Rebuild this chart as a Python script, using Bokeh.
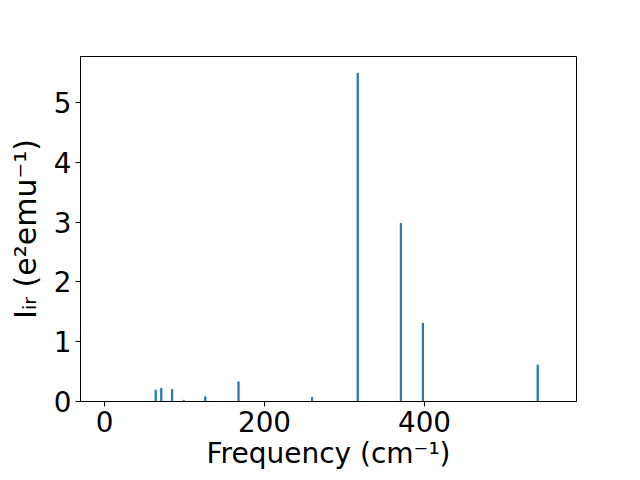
from bokeh.plotting import figure
from bokeh.models import FixedTicker
from bokeh.embed import file_html
from bokeh.resources import INLINE

# data
freq = [64, 71, 84.5, 99, 126, 167.5, 259.5, 316.5, 370.5, 398, 541.5]
intensity = [0.19, 0.22, 0.20, 0.02, 0.08, 0.33, 0.07, 5.49, 2.98, 1.31, 0.61]
x_ticks = [0, 200, 400]
y_ticks = [0, 1, 2, 3, 4, 5]

FONT = "DejaVu Sans"

W, H = 632, 472
p = figure(width=W, height=H, x_range=(-30, 590), y_range=(0, 5.77),
           output_backend="svg", toolbar_location=None,
           min_border_left=80, min_border_right=W - 576, min_border_top=56,
           min_border_bottom=10)
p.vbar(x=freq, top=intensity, width=1.5, color="#1f77b4")

p.xgrid.visible = False
p.ygrid.visible = False
p.outline_line_color = "black"
p.outline_line_alpha = 1
p.outline_line_width = 1

for ax in (p.xaxis[0], p.yaxis[0]):
    ax.axis_line_color = "black"
    ax.major_tick_line_color = "black"
    ax.major_tick_out = 5
    ax.major_tick_in = 0
    ax.minor_tick_out = 0
    ax.minor_tick_in = 0
    ax.major_label_text_font = FONT
    ax.major_label_text_font_size = "27.8px"
    ax.major_label_text_color = "black"
    ax.major_label_standoff = 4
    ax.axis_label_text_font = FONT
    ax.axis_label_text_font_style = "normal"
    ax.axis_label_text_color = "black"

p.xaxis.ticker = FixedTicker(ticks=x_ticks)
p.yaxis.ticker = FixedTicker(ticks=y_ticks)
p.xaxis.axis_label = "Frequency (cm\u207b\u00b9)"
p.xaxis.axis_label_text_font_size = "28px"
p.xaxis.axis_label_standoff = 2

p.yaxis.axis_label = "I\u1d62\u1d63 (e\u00b2emu\u207b\u00b9)"
p.yaxis.axis_label_text_font_size = "30px"
p.yaxis.axis_label_standoff = 8

open("out.html", "w").write(file_html(p, INLINE))
